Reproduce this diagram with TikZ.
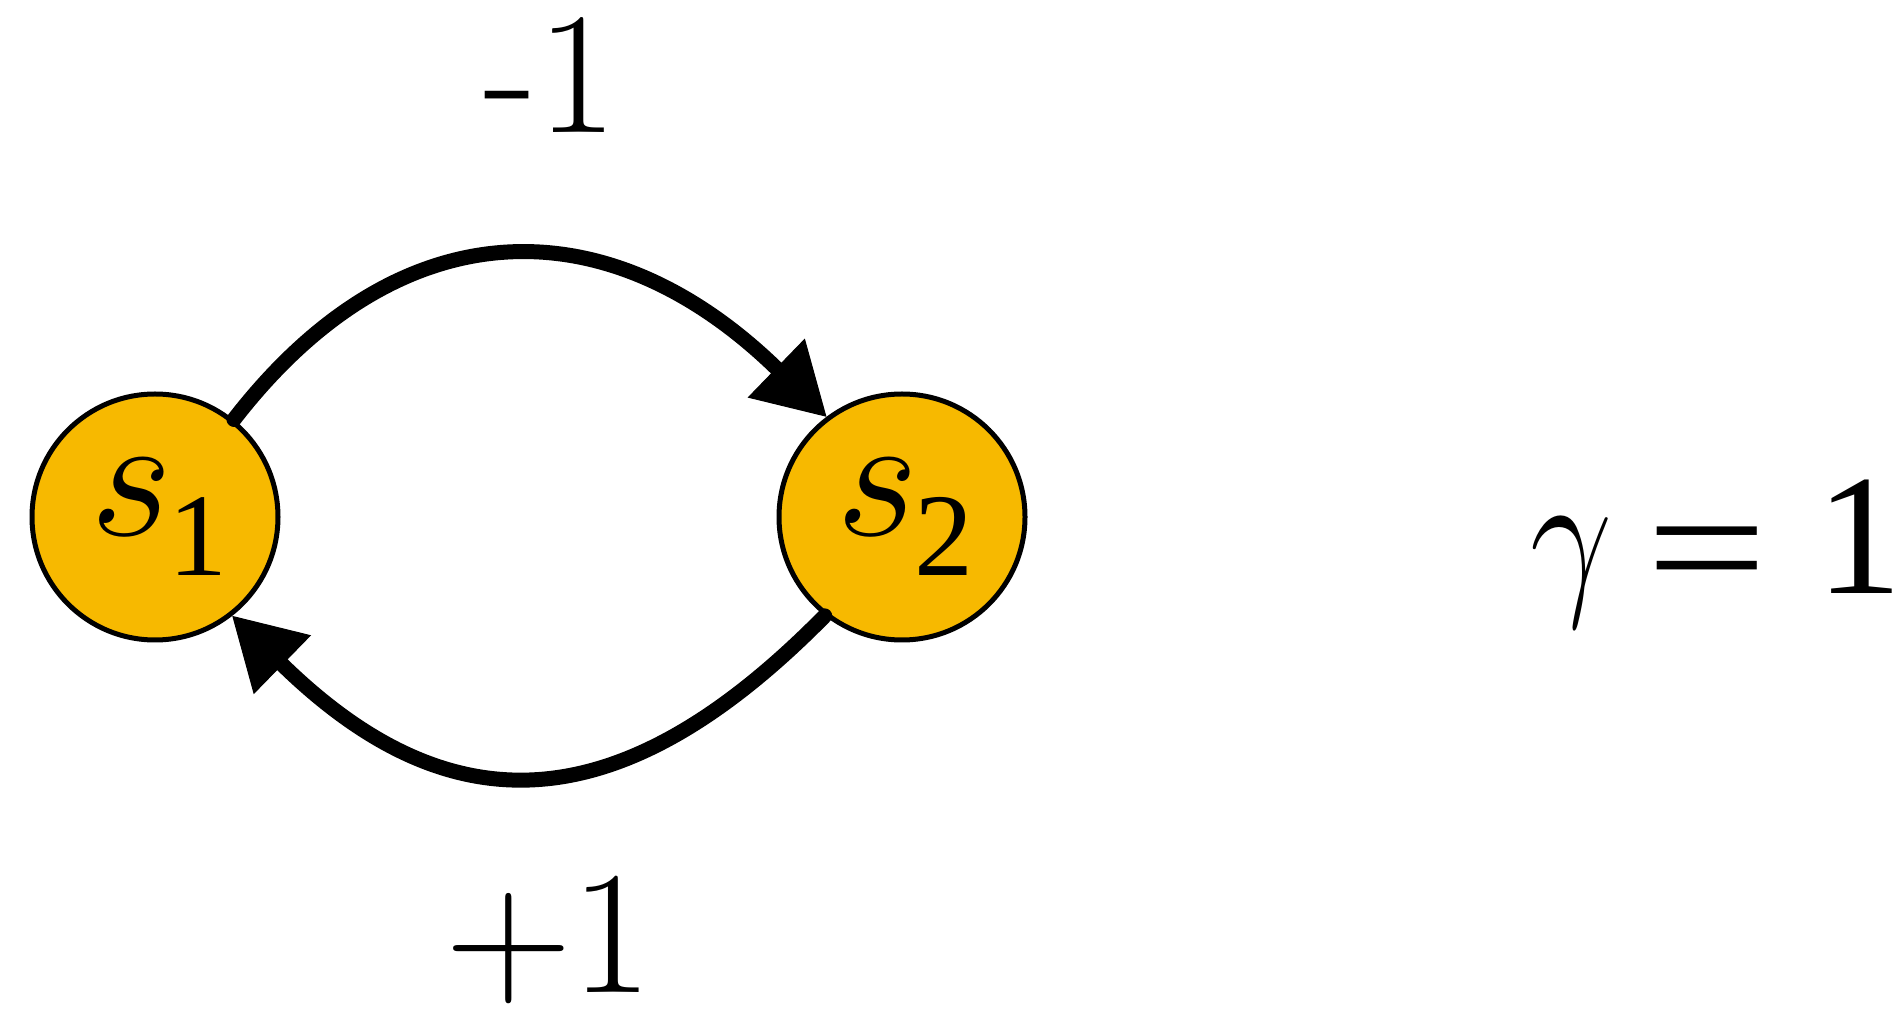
\RequirePackage{fix-cm}
\documentclass[tikz,border=0pt]{standalone}
\usepackage{fontspec}
\usepackage{graphicx}
\newfontfamily\tnr{Liberation Serif}
\usetikzlibrary{arrows.meta}
\definecolor{stateorange}{RGB}{247,185,0}
\tikzset{
  statenode/.style={circle, draw=black, line width=5pt, fill=stateorange,
    minimum size=246pt, inner sep=0pt},
  sketcharrow/.style={draw=black, line width=15pt, line cap=round,
    -{Triangle[length=70pt,width=82pt,line width=1pt]}},
  biglabel/.style={inner sep=0pt, anchor=base}
}
\begin{document}
\begin{tikzpicture}[x=1pt,y=1pt]
\useasboundingbox (0,0) rectangle (1901,1010);
\node[statenode] (s1) at (155,493) {\fontsize{178}{180}\selectfont\hspace{8pt}$s$\kern-4pt\raisebox{-40pt}{\tnr\fontsize{118}{120}\selectfont 1}};
\node[statenode] (s2) at (902,493) {\fontsize{178}{180}\selectfont\hspace{6pt}$s$\kern-5pt\raisebox{-40pt}{\tnr\fontsize{118}{120}\selectfont 2}};
\draw[sketcharrow] (s1.51) .. controls (400,805) and (608,805) .. (s2.127);
\draw[sketcharrow] (s2.232) .. controls (618,184) and (448,184) .. (s1.308);
\node[biglabel] (rtop) at (551,877) {\fontsize{174}{190}\selectfont -1};
\node[biglabel] (rbot) at (549,18) {\fontsize{176}{190}\selectfont +1};
\node[biglabel, anchor=base west] (gam) at (1530,416) {\fontsize{176}{180}\selectfont\scalebox{0.83}[1]{$\gamma$}\tnr\fontsize{172}{180}\selectfont\hspace{-9pt} \raisebox{-12pt}{\scalebox{1.25}[1]{=}}\hspace{6pt} 1};
\end{tikzpicture}
\end{document}
